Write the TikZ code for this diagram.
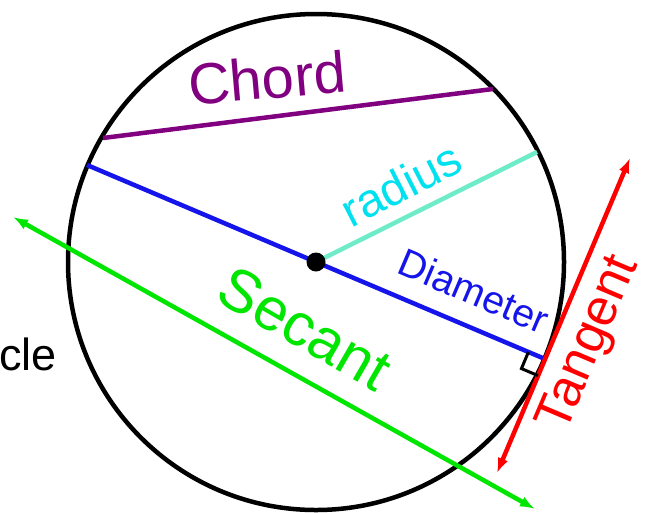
\documentclass[tikz,border=0pt]{standalone}
\usepackage{fontspec}
\setmainfont{Liberation Sans}
\usetikzlibrary{positioning}
\usetikzlibrary{calc}
\usetikzlibrary{arrows.meta}
\definecolor{chordc}{RGB}{128,0,128}
\definecolor{diamc}{RGB}{20,20,235}
\definecolor{radc}{RGB}{110,235,200}
\definecolor{radtxt}{RGB}{0,225,240}
\definecolor{secc}{RGB}{0,230,0}
\definecolor{tanc}{RGB}{255,0,0}
\newcommand{\lblsize}[1]{\fontsize{#1}{#1}\selectfont}

\begin{document}
\begin{tikzpicture}[x=1pt, y=-1pt, >={Latex[length=15pt,width=11pt]},
    seg/.style={line width=4.5pt},
    lbl/.style={inner sep=0pt}]
    \useasboundingbox (0,0) rectangle (655,512);
    % circle and centre
    \coordinate (O) at (316,262);
    \draw[line width=4.5pt] (O) circle (248);
    % points on the circle
    \coordinate (c1) at (103,138);
    \coordinate (c2) at (493,89);
    \coordinate (d1) at ($(O)+(-229,-97)$);
    \coordinate (d2) at ($(O)+(229,97)$);
    \coordinate (r1) at (537,152);
    \coordinate (t1) at (497,473);
    \coordinate (t2) at (630,158);
    \coordinate (s1) at (13,217);
    \coordinate (s2) at (535,509);
    % lines
    \draw[seg, chordc] (c1) -- (c2);
    \draw[seg, radc] (O) -- (r1);
    \draw[seg, diamc] (d1) -- (d2);
    \draw[seg, tanc, <->] (t1) -- (t2);
    \draw[seg, secc, <->] (s1) -- (s2);
    % right angle mark
    \coordinate (ra) at ($(d2)!18pt!(O)$);
    \coordinate (rb) at ($(d2)!18pt!(t1)$);
    \draw[line width=3pt] (ra) -- ($(ra)+(rb)-(d2)$) -- (rb);
    \node[circle, fill=black, minimum size=19pt, inner sep=0pt] (dot) at (O) {};
    % labels
    \node[lbl, chordc, rotate=5] (chord) at (267,78) {\lblsize{58}Chord};
    \node[lbl, radtxt, rotate=27] (radius) at (401,184) {\lblsize{47}radius};
    \node[lbl, diamc, rotate=-23] (diam) at (474,291) {\lblsize{39}Diameter};
    \node[lbl, secc, rotate=-30] (secant) at (305,328) {\lblsize{60}Secant};
    \node[lbl, tanc, rotate=67] (tangent) at (590,344) {\lblsize{52}Tangent};
    \node[lbl, anchor=base west] (circ) at (-1,370) {\lblsize{45}cle};
\end{tikzpicture}
\end{document}
